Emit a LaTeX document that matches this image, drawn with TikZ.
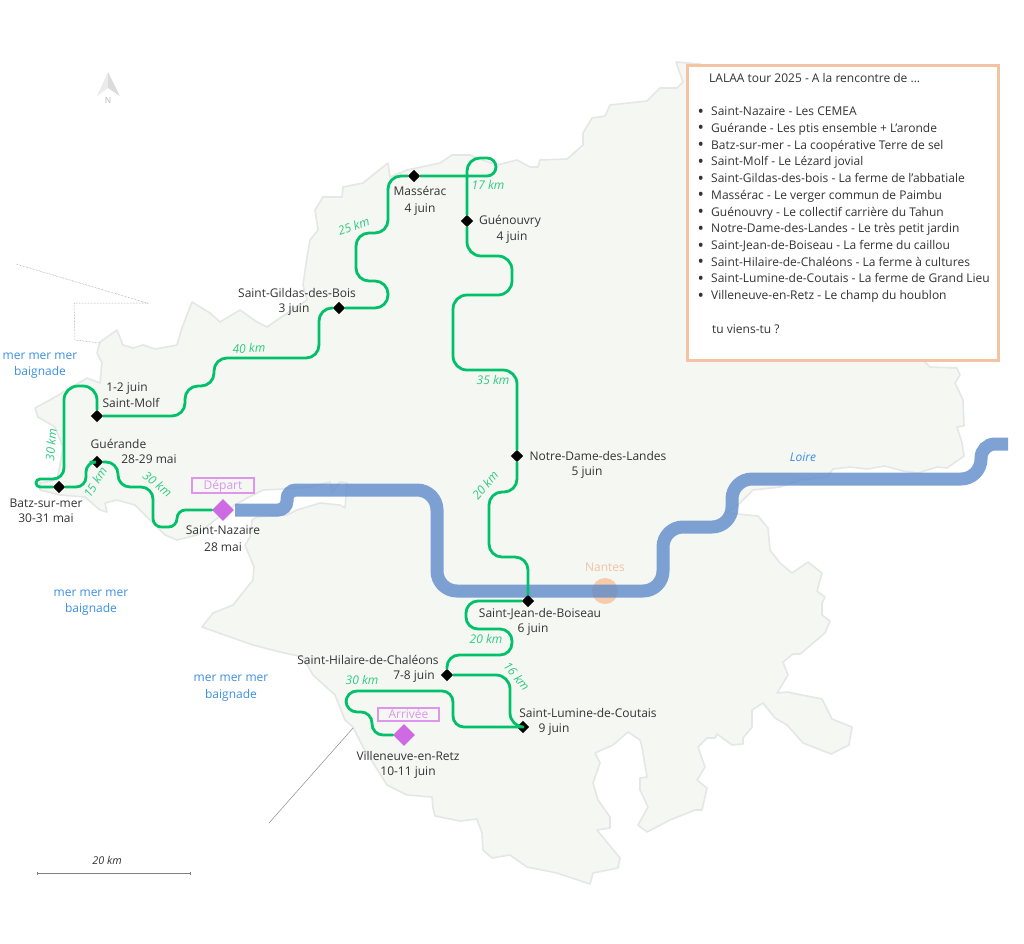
\documentclass[tikz,border=0pt]{standalone}
\usepackage{fontspec}
\setmainfont{Open Sans}
\usetikzlibrary{shapes.geometric}
\definecolor{landfill}{HTML}{F5F7F3}
\definecolor{landline}{HTML}{E5E7E6}
\definecolor{routegreen}{HTML}{00C169}
\definecolor{kmgreen}{HTML}{2FCB80}
\definecolor{riverblue}{HTML}{5F8BCB}
\definecolor{seablue}{HTML}{3C8FE2}
\definecolor{peach}{HTML}{F4C3A3}
\definecolor{violet}{HTML}{CE6BE3}
\definecolor{violetl}{HTML}{DD96EC}
\definecolor{ink}{HTML}{333333}
\newcommand{\legendbullet}{\makebox[13.5pt][l]{\fontsize{17}{16}\selectfont\raisebox{-1.5pt}{•}}}
\tikzset{
 x=1pt,y=-1pt,
 land/.style={fill=landfill,draw=landline,line width=1.6pt,line join=round},
 river/.style={draw=riverblue,opacity=.8,line width=13pt},
 route/.style={draw=routegreen,line width=2.8pt,line cap=round},
 stop/.style={diamond,fill=black,inner sep=0pt,minimum width=12.5pt,minimum height=12.5pt},
 bigstop/.style={diamond,fill=violet,inner sep=0pt,minimum width=22pt,minimum height=22pt},
 lbl/.style={font=\fontsize{12}{14}\selectfont,text=ink,inner sep=0pt,text height=10pt,text depth=2pt},
 km/.style={font=\fontsize{12}{14}\selectfont\itshape,text=kmgreen,inner sep=0pt,text height=9.5pt,text depth=2.5pt},
 sea/.style={font=\fontsize{12}{14}\selectfont,text=seablue,inner sep=0pt,text height=10pt,text depth=2pt},
 tagbox/.style={draw=violetl,line width=1.3pt,fill=none,font=\fontsize{12}{14}\selectfont,text=violetl,inner sep=0pt,text height=10pt,text depth=2pt},
 guide/.style={draw=black!45,line width=.5pt},
}
\begin{document}
\begin{tikzpicture}
\useasboundingbox (0,0) rectangle (1024,943);
\fill[white] (0,0) rectangle (1024,943);
% land
\draw[land] (35,408) -- (50,400) -- (87,378) -- (100,383) -- (102,363) -- (97,353) -- (100,342) -- (117,330) -- (123,345) -- (133,348) -- (143,345) -- (155,349) -- (177,345) -- (182,328) -- (192,302) -- (210,313) -- (220,322) -- (240,310) -- (257,322) -- (267,327) -- (280,318) -- (307,300) -- (303,285) -- (307,257) -- (310,240) -- (318,230) -- (315,210) -- (323,197) -- (342,197) -- (343,187) -- (363,183) -- (388,163) -- (390,177) -- (407,170) -- (440,163) -- (452,155) -- (470,155) -- (477,158) -- (497,165) -- (517,160) -- (530,167) -- (538,167) -- (540,160) -- (567,159) -- (583,145) -- (583,133) -- (592,118) -- (605,116) -- (610,105) -- (647,101) -- (660,88) -- (677,88) -- (683,82) -- (676,62) -- (700,64) -- (925,362) -- (930,367) -- (957,368) -- (960,375) -- (955,383) -- (963,400) -- (964,426) -- (957,427) -- (962,443) -- (964,456) -- (947,468) -- (937,467) -- (918,473) -- (903,471) -- (885,466) -- (867,469) -- (850,467) -- (833,469) -- (827,477) -- (800,480) -- (780,487) -- (753,490) -- (740,503) -- (727,513) -- (758,516) -- (768,528) -- (770,550) -- (780,563) -- (792,573) -- (808,562) -- (822,573) -- (817,591) -- (825,597) -- (822,603) -- (822,615) -- (830,621) -- (825,633) -- (800,654) -- (793,654) -- (783,662) -- (788,675) -- (777,693) -- (787,692) -- (822,699) -- (832,719) -- (852,727) -- (849,745) -- (831,754) -- (803,743) -- (787,725) -- (775,718) -- (763,703) -- (752,710) -- (752,727) -- (743,738) -- (743,744) -- (732,745) -- (717,734) -- (715,738) -- (707,738) -- (698,747) -- (705,767) -- (697,780) -- (707,788) -- (702,810) -- (695,810) -- (670,820) -- (647,832) -- (638,825) -- (648,807) -- (640,790) -- (640,778) -- (647,777) -- (642,747) -- (640,740) -- (628,732) -- (613,745) -- (595,753) -- (600,763) -- (593,783) -- (598,800) -- (610,817) -- (610,828) -- (597,830) -- (620,858) -- (618,868) -- (593,873) -- (590,884) -- (557,873) -- (527,867) -- (510,855) -- (492,858) -- (483,850) -- (482,833) -- (477,819) -- (460,821) -- (435,816) -- (433,808) -- (432,797) -- (407,795) -- (387,785) -- (363,747) -- (353,727) -- (345,720) -- (335,695) -- (313,675) -- (303,657) -- (280,652) -- (253,645) -- (233,638) -- (202,627) -- (213,613) -- (233,605) -- (253,580) -- (254,567) -- (245,545) -- (250,537) -- (252,520) -- (257,517) -- (287,515) -- (297,510) -- (320,503) -- (340,505) -- (345,508) -- (347,483) -- (340,482) -- (332,493) -- (330,482) -- (310,487) -- (283,489) -- (263,490) -- (247,498) -- (235,505) -- (215,520) -- (197,535) -- (177,540) -- (165,535) -- (153,523) -- (135,505) -- (117,500) -- (105,503) -- (107,512) -- (100,510) -- (85,497) -- (60,495) -- (40,490) -- (40,483) -- (57,480) -- (60,465) -- (63,447) -- (55,427) -- (38,417) -- cycle;
% thin guide lines
\draw[guide,densely dotted] (16,264) -- (147,303) -- (74,303) -- (75,340) -- (100,343);
\draw[guide] (353,728) -- (269,823);
% Nantes
\fill[peach!85!orange,opacity=.7] (605,591) circle (13);
\node[font=\fontsize{12}{14}\selectfont,text=peach,inner sep=0pt] (nantes) at (605,567.5) {Nantes};
% river
\draw[river,rounded corners=9pt] (235,510) -- (287,510) -- (287,490) [rounded corners=20pt] -- (437,490) -- (437,591) -- (663,591) -- (663,527) -- (732,527) -- (732,479) -- (981,479) [rounded corners=14pt] -- (981,444) -- (1008,444);
\node[font=\fontsize{12}{14}\selectfont\itshape,text=seablue,inner sep=0pt] (loire) at (803,457.5) {Loire};
% stops
\node[bigstop] (sn) at (223,510) {};
\node[bigstop] (vl) at (404,735) {};
\node[stop] (gu) at (97,462) {};
\node[stop] (bz) at (59,487) {};
\node[stop] (sm) at (97,416) {};
\node[stop] (sg) at (339,308) {};
\node[stop] (ma) at (414,176) {};
\node[stop] (gv) at (467,221) {};
\node[stop] (nd) at (517,456) {};
\node[stop] (sj) at (528,601) {};
\node[stop] (sh) at (447,675) {};
\node[stop] (sl) at (523,727) {};
% routes
\draw[route] (sn) [rounded corners=8.5pt] -- (177,510) -- (177,527) -- (153,527) [rounded corners=12pt] -- (153,487) -- (118,487) -- (118,462) -- (gu);
\draw[route,rounded corners=10pt] (gu) -- (86,462) -- (86,487) -- (bz);
\draw[route] (bz) [rounded corners=4pt] -- (36,487) -- (36,479) [rounded corners=11pt] -- (64,479) [rounded corners=14pt] -- (64,386) -- (97,386) -- (sm);
\draw[route,rounded corners=13pt] (sm) -- (185,416) -- (185,386) -- (214,386) -- (214,358) -- (319,358) -- (319,308) -- (sg);
\draw[route,rounded corners=13pt] (sg) -- (388,308) -- (388,281) -- (356,281) -- (356,233) -- (388,233) -- (388,176) -- (ma);
\draw[route] (ma) [rounded corners=9pt] -- (496,176) -- (496,158) [rounded corners=13pt] -- (467,158) -- (gv);
\draw[route,rounded corners=14pt] (gv) -- (467,256) -- (512,256) -- (512,295) -- (453,295) -- (453,370) -- (517,370) -- (nd);
\draw[route,rounded corners=13pt] (nd) -- (517,492) -- (489,492) -- (489,557) -- (528,557) -- (sj);
\draw[route,rounded corners=12pt] (sj) -- (466,601) -- (466,629) -- (512,629) -- (512,655) -- (447,655) -- (sh);
\draw[route,rounded corners=14pt] (sh) -- (510,675) -- (510,727) -- (sl);
\draw[route,rounded corners=11pt] (sl) -- (453,727) -- (453,691) -- (346,691) -- (346,712) -- (372,712) -- (372,735) -- (vl);
% tags
\node[tagbox,minimum width=62pt,minimum height=15pt] (dep) at (223,485.5) {Départ};
\node[tagbox,minimum width=61pt,minimum height=13pt] (arr) at (408.5,714.5) {Arrivée};
% stop labels
\node[lbl] (l1a) at (223,530) {Saint-Nazaire};
\node[lbl] (l1b) at (223,547) {28 mai};
\node[lbl] (l2a) at (46,503) {Batz-sur-mer};
\node[lbl] (l2b) at (46,518) {30-31 mai};
\node[lbl] (l3a) at (118.5,444) {Guérande};
\node[lbl] (l3b) at (149,459) {28-29 mai};
\node[lbl] (l4a) at (127,387) {1-2 juin};
\node[lbl] (l4b) at (131,403) {Saint-Molf};
\node[lbl] (l5a) at (297,293) {Saint-Gildas-des-Bois};
\node[lbl] (l5b) at (294,308) {3 juin};
\node[lbl] (l6a) at (420,191) {Massérac};
\node[lbl] (l6b) at (420,208) {4 juin};
\node[lbl] (l7a) at (510,220) {Guénouvry};
\node[lbl] (l7b) at (512,236) {4 juin};
\node[lbl] (l8a) at (598,456) {Notre-Dame-des-Landes};
\node[lbl] (l8b) at (587,471) {5 juin};
\node[lbl] (l9a) at (540,613) {Saint-Jean-de-Boiseau};
\node[lbl] (l9b) at (533,628) {6 juin};
\node[lbl] (l10a) at (368,660) {Saint-Hilaire-de-Chaléons};
\node[lbl] (l10b) at (414,675) {7-8 juin};
\node[lbl] (l11a) at (588,713) {Saint-Lumine-de-Coutais};
\node[lbl] (l11b) at (554,728) {9 juin};
\node[lbl] (l12a) at (408,756) {Villeneuve-en-Retz};
\node[lbl] (l12b) at (408,771) {10-11 juin};
% distances
\node[km,rotate=85] (k1) at (52,445) {30 km};
\node[km,rotate=58] (k2) at (96,483) {15 km};
\node[km,rotate=-38] (k3) at (157,485) {30 km};
\node[km,rotate=3] (k4) at (249,349) {40 km};
\node[km,rotate=20] (k5) at (354,227) {25 km};
\node[km] (k6) at (488,185.5) {17 km};
\node[km] (k7) at (493,381) {35 km};
\node[km,rotate=50] (k8) at (486,486) {20 km};
\node[km] (k9) at (486,640) {20 km};
\node[km,rotate=-50] (k10) at (516,677) {16 km};
\node[km] (k11) at (362,681) {30 km};
% sea
\node[sea] (s1a) at (40,355) {mer mer mer};
\node[sea] (s1b) at (40,371) {baignade};
\node[sea] (s2a) at (91,592) {mer mer mer};
\node[sea] (s2b) at (91,608) {baignade};
\node[sea] (s3a) at (231,677) {mer mer mer};
\node[sea] (s3b) at (231,694) {baignade};
% north arrow
\fill[black!8] (108,72) -- (97,96) -- (108,88) -- cycle;
\fill[black!14] (108,72) -- (120,96) -- (108,88) -- cycle;
\node[font=\fontsize{8.5}{10}\selectfont,text=black!28,inner sep=0pt] (north) at (108,100) {N};
% scale bar
\draw[black!50,line width=1pt] (37,873) -- (190,873);
\draw[black!50,line width=.7pt] (37,871.5) -- (37,874.5) (190,871.5) -- (190,874.5);
\node[font=\fontsize{10.8}{12}\selectfont\itshape,text=ink,inner sep=0pt] (scale) at (107,860.5) {20 km};
% legend
\draw[draw=peach,fill=white,line width=3pt] (687,65) rectangle (998,360);
\node[anchor=north west,align=left,inner sep=0pt,text=ink,font=\fontsize{12}{16.72}\selectfont] (legend) at (697.5,73) {%
\hspace*{11.5pt}LALAA tour 2025 - A la rencontre de ...\\
\strut\\
\legendbullet Saint-Nazaire - Les CEMEA\\
\legendbullet Guérande - Les ptis ensemble + L’aronde\\
\legendbullet Batz-sur-mer - La coopérative Terre de sel\\
\legendbullet Saint-Molf - Le Lézard jovial\\
\legendbullet Saint-Gildas-des-bois - La ferme de l’abbatiale\\
\legendbullet Massérac - Le verger commun de Paimbu\\
\legendbullet Guénouvry - Le collectif carrière du Tahun\\
\legendbullet Notre-Dame-des-Landes - Le très petit jardin\\
\legendbullet Saint-Jean-de-Boiseau - La ferme du caillou\\
\legendbullet Saint-Hilaire-de-Chaléons - La ferme à cultures\\
\legendbullet Saint-Lumine-de-Coutais - La ferme de Grand Lieu\\
\legendbullet Villeneuve-en-Retz - Le champ du houblon\\
\strut\\
\hspace*{14.5pt}tu viens-tu ?};
\end{tikzpicture}
\end{document}
